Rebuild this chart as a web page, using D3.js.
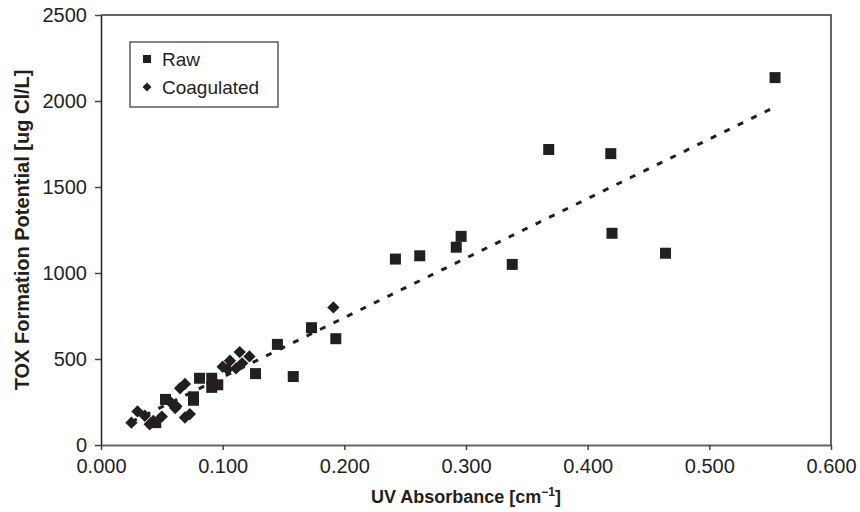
<!DOCTYPE html>
<html>
<head>
<meta charset="utf-8">
<script src="https://cdn.jsdelivr.net/npm/d3@7"></script>
<style>
  body { margin: 0; background: #fff; }
  text { font-family: "Liberation Sans", Arial, sans-serif; fill: #231f20; }
</style>
</head>
<body>
<div id="chart"></div>
<script>
// raw water samples [UV absorbance, TOX FP]
var rawX = [0.045, 0.053, 0.076, 0.076, 0.081, 0.091, 0.091, 0.096, 0.127, 0.145, 0.158, 0.173, 0.193,
            0.242, 0.262, 0.292, 0.296, 0.338, 0.368, 0.419, 0.420, 0.464, 0.554];
var rawY = [130, 265, 280, 260, 388, 388, 335, 350, 415, 585, 398, 682, 618,
            1081, 1100, 1150, 1213, 1050, 1718, 1694, 1231, 1115, 2136];

// coagulated samples
var coagX = [0.025, 0.030, 0.036, 0.040, 0.043, 0.050, 0.057, 0.061, 0.062, 0.065, 0.069, 0.069, 0.073,
             0.100, 0.104, 0.106, 0.111, 0.114, 0.116, 0.122, 0.191];
var coagY = [130, 195, 170, 120, 140, 165, 250, 215, 225, 330, 355, 160, 180,
             455, 440, 490, 445, 540, 475, 515, 800];

// fitted trend line (end points in data units)
var trendX = [0.025, 0.553];
var trendY = [135, 1962];

var xTicks = [0, 0.1, 0.2, 0.3, 0.4, 0.5, 0.6];
var yTicks = [0, 500, 1000, 1500, 2000, 2500];

var seriesNames = ["Raw", "Coagulated"];

var width = 860, height = 512;
var margin = {top: 15, right: 29, bottom: 67, left: 101};

var svg = d3.select("#chart").append("svg")
  .attr("width", width)
  .attr("height", height);

var x = d3.scaleLinear().domain([0, 0.6]).range([margin.left, width - margin.right]);
var y = d3.scaleLinear().domain([0, 2500]).range([height - margin.bottom, margin.top]);

// frame (top and right)
svg.append("path")
  .attr("d", "M" + x(0) + "," + y(2500) + "H" + x(0.6) + "V" + y(0))
  .attr("fill", "none").attr("stroke", "#333").attr("stroke-width", 1.5);

var xAxis = svg.append("g")
  .attr("transform", "translate(0," + y(0) + ")")
  .call(d3.axisBottom(x).tickValues(xTicks).tickFormat(d3.format(".3f")).tickSizeInner(5).tickSizeOuter(0).tickPadding(9));

var yAxis = svg.append("g")
  .attr("transform", "translate(" + x(0) + ",0)")
  .call(d3.axisLeft(y).tickValues(yTicks).tickFormat(d3.format("d")).tickSizeInner(6).tickSizeOuter(0).tickPadding(8));

xAxis.selectAll("path").attr("stroke", "#666").attr("stroke-width", 2.2);
yAxis.selectAll("path").attr("stroke", "#222").attr("stroke-width", 1.5);
[xAxis, yAxis].forEach(function(g) {
  g.selectAll("line").attr("stroke", "#444").attr("stroke-width", 1.5);
  g.selectAll("text").style("font-size", "20px").attr("fill", "#231f20")
    .style("font-family", "'Liberation Sans', Arial, sans-serif");
});

// trend line
var line = d3.line()
  .x(function(d) { return x(d[0]); })
  .y(function(d) { return y(d[1]); });

svg.append("path")
  .datum(d3.zip(trendX, trendY))
  .attr("d", line)
  .attr("fill", "none")
  .attr("stroke", "#231f20")
  .attr("stroke-width", 3)
  .attr("stroke-dasharray", "6,9");

var square = d3.symbol().type(d3.symbolSquare).size(121);
var diamond = d3.symbol().type(d3.symbolSquare).size(76);

svg.append("g").selectAll("path")
  .data(d3.zip(coagX, coagY))
  .join("path")
  .attr("d", diamond)
  .attr("transform", function(d) { return "translate(" + x(d[0]) + "," + y(d[1]) + ") rotate(45)"; })
  .attr("fill", "#231f20");

svg.append("g").selectAll("path")
  .data(d3.zip(rawX, rawY))
  .join("path")
  .attr("d", square)
  .attr("transform", function(d) { return "translate(" + x(d[0]) + "," + y(d[1]) + ")"; })
  .attr("fill", "#231f20");

// legend
var legend = svg.append("g").attr("transform", "translate(130,42)");
legend.append("rect")
  .attr("width", 148).attr("height", 65)
  .attr("fill", "#fff").attr("stroke", "#333").attr("stroke-width", 1.2);

seriesNames.forEach(function(name, i) {
  var row = legend.append("g").attr("transform", "translate(17," + (17 + i * 28) + ")");
  row.append("path")
    .attr("d", i == 0 ? d3.symbol().type(d3.symbolSquare).size(64)() : d3.symbol().type(d3.symbolSquare).size(40)())
    .attr("transform", i == 0 ? null : "rotate(45)")
    .attr("fill", "#231f20");
  row.append("text")
    .attr("x", 15).attr("dy", "0.35em")
    .style("font-size", "19px")
    .text(name);
});

// axis titles
svg.append("text")
  .attr("x", (x(0) + x(0.6)) / 2).attr("y", 503)
  .attr("text-anchor", "middle")
  .style("font-size", "18px").style("font-weight", "bold")
  .html("UV Absorbance [cm<tspan dy='-7' font-size='12px'>\u22121</tspan><tspan dy='7'>]</tspan>");

svg.append("text")
  .attr("transform", "translate(29," + ((y(0) + y(2500)) / 2) + ") rotate(-90)")
  .attr("text-anchor", "middle")
  .style("font-size", "20px").style("font-weight", "bold")
  .text("TOX Formation Potential [ug Cl/L]");
</script>
</body>
</html>
